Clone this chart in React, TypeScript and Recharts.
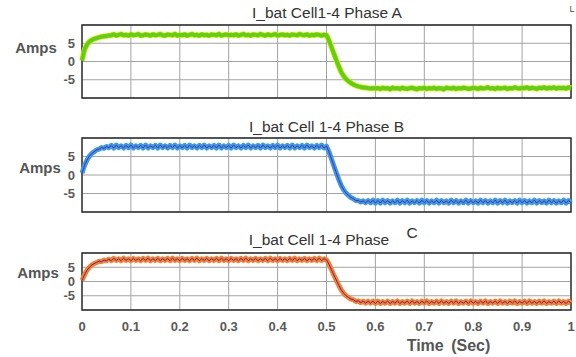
import React from "react";
import { LineChart, Line, XAxis, YAxis, CartesianGrid, ReferenceArea } from "recharts";

const TIME = [
  0, 0.005, 0.01, 0.015, 0.02, 0.025, 0.03, 0.035, 0.04, 0.045, 0.05, 0.055, 0.06, 0.065, 0.07, 0.075, 0.08, 0.085, 0.09, 0.095,
  0.1, 0.105, 0.11, 0.115, 0.12, 0.125, 0.13, 0.135, 0.14, 0.145, 0.15, 0.155, 0.16, 0.165, 0.17, 0.175, 0.18, 0.185, 0.19, 0.195,
  0.2, 0.205, 0.21, 0.215, 0.22, 0.225, 0.23, 0.235, 0.24, 0.245, 0.25, 0.255, 0.26, 0.265, 0.27, 0.275, 0.28, 0.285, 0.29, 0.295,
  0.3, 0.305, 0.31, 0.315, 0.32, 0.325, 0.33, 0.335, 0.34, 0.345, 0.35, 0.355, 0.36, 0.365, 0.37, 0.375, 0.38, 0.385, 0.39, 0.395,
  0.4, 0.405, 0.41, 0.415, 0.42, 0.425, 0.43, 0.435, 0.44, 0.445, 0.45, 0.455, 0.46, 0.465, 0.47, 0.475, 0.48, 0.485, 0.49, 0.495,
  0.5, 0.505, 0.51, 0.515, 0.52, 0.525, 0.53, 0.535, 0.54, 0.545, 0.55, 0.555, 0.56, 0.565, 0.57, 0.575, 0.58, 0.585, 0.59, 0.595,
  0.6, 0.605, 0.61, 0.615, 0.62, 0.625, 0.63, 0.635, 0.64, 0.645, 0.65, 0.655, 0.66, 0.665, 0.67, 0.675, 0.68, 0.685, 0.69, 0.695,
  0.7, 0.705, 0.71, 0.715, 0.72, 0.725, 0.73, 0.735, 0.74, 0.745, 0.75, 0.755, 0.76, 0.765, 0.77, 0.775, 0.78, 0.785, 0.79, 0.795,
  0.8, 0.805, 0.81, 0.815, 0.82, 0.825, 0.83, 0.835, 0.84, 0.845, 0.85, 0.855, 0.86, 0.865, 0.87, 0.875, 0.88, 0.885, 0.89, 0.895,
  0.9, 0.905, 0.91, 0.915, 0.92, 0.925, 0.93, 0.935, 0.94, 0.945, 0.95, 0.955, 0.96, 0.965, 0.97, 0.975, 0.98, 0.985, 0.99, 0.995,
  1,
];

// Phase A (t = 0 .. 0.055, 0.06 .. 0.5, 0.505 .. 0.6, 0.605 .. 1)
const A_RISE = [0.3, 3.2, 4.6, 5.4, 5.9, 6.2, 6.4, 6.6, 6.8, 6.9, 7.0, 7.1];
const A_HIGH = [
  7.2, 7.4, 7.1, 7.3, 7.5, 7.2, 7.3, 7.1, 7.4, 7.2,
  7.3, 7.5, 7.1, 7.2, 7.4, 7.3, 7.1, 7.4, 7.2, 7.3,
  7.5, 7.2, 7.1, 7.4, 7.3, 7.2, 7.5, 7.1, 7.3, 7.2,
  7.4, 7.1, 7.3, 7.5, 7.2, 7.3, 7.1, 7.4, 7.2, 7.3,
  7.1, 7.4, 7.3, 7.2, 7.5, 7.1, 7.3, 7.4, 7.2, 7.3,
  7.2, 7.4, 7.1, 7.3, 7.5, 7.2, 7.3, 7.1, 7.4, 7.3,
  7.2, 7.5, 7.3, 7.1, 7.4, 7.2, 7.3, 7.5, 7.1, 7.3,
  7.4, 7.2, 7.3, 7.1, 7.4, 7.3, 7.2, 7.5, 7.3, 7.2,
  7.4, 7.1, 7.3, 7.2, 7.4, 7.3, 7.1, 7.3, 7.2,
];
const A_FALL = [5.8, 4.0, 2.2, 0.4, -1.3, -2.9, -4.0, -4.8, -5.4, -5.9, -6.3, -6.6, -6.8, -7.0, -7.1, -7.2, -7.3, -7.4, -7.3, -7.4];
const A_LOW = [
  -7.3, -7.5, -7.2, -7.4, -7.3, -7.6, -7.2, -7.4, -7.3, -7.5,
  -7.2, -7.4, -7.5, -7.3, -7.2, -7.4, -7.6, -7.3, -7.4, -7.2,
  -7.5, -7.3, -7.4, -7.2, -7.5, -7.3, -7.4, -7.6, -7.2, -7.3,
  -7.4, -7.2, -7.5, -7.3, -7.4, -7.2, -7.3, -7.5, -7.4, -7.2,
  -7.3, -7.5, -7.2, -7.4, -7.3, -7.1, -7.4, -7.3, -7.5, -7.2,
  -7.4, -7.3, -7.2, -7.5, -7.3, -7.4, -7.1, -7.3, -7.4, -7.2,
  -7.3, -7.1, -7.4, -7.2, -7.3, -7.5, -7.2, -7.3, -7.1, -7.4,
  -7.2, -7.3, -7.1, -7.4, -7.2, -7.3, -7.2, -7.4, -7.1, -7.3,
];

// Phase B
const B_RISE = [0.5, 2.5, 4.0, 5.1, 5.8, 6.3, 6.8, 7.0, 7.4, 7.2, 7.7, 7.4];
const B_HIGH = [
  8.0, 7.3, 8.1, 7.4, 7.9, 7.3, 8.0, 7.4, 8.1, 7.3,
  7.9, 7.4, 8.0, 7.3, 8.1, 7.3, 7.9, 7.4, 8.0, 7.3,
  8.1, 7.4, 7.9, 7.3, 8.0, 7.4, 8.1, 7.3, 7.9, 7.4,
  8.0, 7.3, 8.1, 7.4, 7.9, 7.3, 8.0, 7.4, 8.1, 7.3,
  7.9, 7.4, 8.0, 7.3, 8.1, 7.3, 7.9, 7.4, 8.0, 7.3,
  8.1, 7.4, 7.9, 7.3, 8.0, 7.4, 8.1, 7.3, 7.9, 7.4,
  8.0, 7.3, 8.1, 7.4, 7.9, 7.3, 8.0, 7.4, 8.1, 7.3,
  7.9, 7.4, 8.0, 7.3, 8.1, 7.3, 7.9, 7.4, 8.0, 7.3,
  8.1, 7.4, 7.9, 7.3, 8.0, 7.4, 8.1, 7.3, 7.8,
];
const B_FALL = [6.3, 4.4, 2.5, 0.6, -1.2, -2.8, -4.0, -4.9, -5.5, -6.1, -6.4, -6.9, -6.9, -7.3, -7.0, -7.5, -6.9, -7.5, -6.8, -7.6];
const B_LOW = [
  -6.9, -7.6, -6.8, -7.5, -6.9, -7.6, -7.0, -7.5, -6.8, -7.6,
  -6.9, -7.5, -6.8, -7.6, -7.0, -7.5, -6.9, -7.6, -6.8, -7.5,
  -6.9, -7.6, -7.0, -7.5, -6.8, -7.6, -6.9, -7.5, -7.0, -7.6,
  -6.8, -7.5, -6.9, -7.6, -7.0, -7.5, -6.8, -7.6, -6.9, -7.5,
  -7.0, -7.6, -6.8, -7.5, -6.9, -7.6, -7.0, -7.5, -6.8, -7.6,
  -6.9, -7.5, -6.8, -7.6, -7.0, -7.5, -6.9, -7.6, -6.8, -7.5,
  -6.9, -7.6, -7.0, -7.5, -6.8, -7.6, -6.9, -7.5, -7.0, -7.6,
  -6.8, -7.5, -6.9, -7.6, -7.0, -7.5, -6.8, -7.6, -6.9, -7.5,
];

// Phase C
const C_RISE = [0.4, 2.3, 3.9, 5.0, 5.8, 6.3, 6.7, 7.1, 7.0, 7.5, 7.3, 7.8];
const C_HIGH = [
  7.3, 8.1, 7.4, 8.0, 7.3, 8.2, 7.4, 8.0, 7.3, 8.1,
  7.4, 8.0, 7.3, 8.1, 7.4, 8.2, 7.3, 8.0, 7.4, 8.1,
  7.3, 8.0, 7.4, 8.1, 7.3, 8.2, 7.4, 8.0, 7.3, 8.1,
  7.4, 8.0, 7.3, 8.1, 7.4, 8.2, 7.3, 8.0, 7.4, 8.1,
  7.3, 8.0, 7.4, 8.1, 7.3, 8.2, 7.4, 8.0, 7.3, 8.1,
  7.4, 8.0, 7.3, 8.1, 7.4, 8.2, 7.3, 8.0, 7.4, 8.1,
  7.3, 8.0, 7.4, 8.1, 7.3, 8.2, 7.4, 8.0, 7.3, 8.1,
  7.4, 8.0, 7.3, 8.1, 7.4, 8.2, 7.3, 8.0, 7.4, 8.1,
  7.3, 8.0, 7.4, 8.1, 7.3, 8.2, 7.4, 8.0, 7.6,
];
const C_FALL = [6.1, 4.2, 2.3, 0.5, -1.3, -2.9, -4.1, -5.0, -5.6, -6.2, -6.4, -7.0, -6.8, -7.4, -6.9, -7.6, -6.9, -7.6, -6.9, -7.7];
const C_LOW = [
  -6.9, -7.7, -7.0, -7.6, -6.9, -7.7, -7.0, -7.6, -6.8, -7.7,
  -7.0, -7.6, -6.9, -7.7, -6.8, -7.6, -7.0, -7.7, -6.9, -7.6,
  -6.8, -7.7, -7.0, -7.6, -6.9, -7.7, -6.8, -7.6, -7.0, -7.7,
  -6.9, -7.6, -6.8, -7.7, -7.0, -7.6, -6.9, -7.7, -6.8, -7.6,
  -7.0, -7.7, -6.9, -7.6, -6.8, -7.7, -7.0, -7.6, -6.9, -7.7,
  -6.8, -7.6, -7.0, -7.7, -6.9, -7.6, -6.8, -7.7, -7.0, -7.6,
  -6.9, -7.7, -6.8, -7.6, -7.0, -7.7, -6.9, -7.6, -6.8, -7.7,
  -7.0, -7.6, -6.9, -7.7, -6.8, -7.6, -7.0, -7.7, -6.9, -7.6,
];

const PHASE_A = [...A_RISE, ...A_HIGH, ...A_FALL, ...A_LOW];
const PHASE_B = [...B_RISE, ...B_HIGH, ...B_FALL, ...B_LOW];
const PHASE_C = [...C_RISE, ...C_HIGH, ...C_FALL, ...C_LOW];

const X_TICKS = [0, 0.1, 0.2, 0.3, 0.4, 0.5, 0.6, 0.7, 0.8, 0.9, 1];
const Y_TICKS = [-5, 0, 5];
const TITLES = ["I_bat Cell1-4 Phase A", "I_bat Cell 1-4 Phase B", "I_bat Cell 1-4 Phase"];
const Y_LABEL = "Amps";
const X_LABEL = "Time (Sec)";

const FONT = "'Liberation Sans', Arial, Helvetica, sans-serif";

const build = (vals: number[]) => TIME.map((t, i) => ({ t, v: vals[i] }));

type PanelProps = {
  top: number;
  plotH: number;
  values: number[];
  showX: boolean;
  band: string;
  bandW: number;
  line: string;
  lineW: number;
};

function Panel({ top, plotH, values, showX, band, bandW, line, lineW }: PanelProps) {
  const pad = 2;
  const xH = showX ? 30 : 0;
  const data = build(values);
  const tickStyle = { fontSize: 13, fontWeight: 700, fill: "#5a5a5a", fontFamily: FONT };
  return (
    <div style={{ position: "absolute", left: 0, top: top - pad, width: 576, height: plotH + pad * 2 + xH }}>
      <LineChart
        width={576}
        height={plotH + pad * 2 + xH}
        data={data}
        margin={{ top: pad, right: 5, bottom: pad, left: 0 }}
      >
        <CartesianGrid stroke="#a3a3a3" strokeWidth={1} />
        <XAxis
          dataKey="t"
          type="number"
          domain={[0, 1]}
          ticks={X_TICKS}
          hide={!showX}
          height={xH}
          axisLine={false}
          tickLine={false}
          tickSize={0}
          tickMargin={12}
          tick={tickStyle}
          interval={0}
        />
        <YAxis
          type="number"
          domain={[-10, 10]}
          ticks={Y_TICKS}
          width={82}
          axisLine={false}
          tickLine={false}
          tickSize={0}
          tickMargin={7}
          tick={tickStyle}
          interval={0}
          allowDataOverflow
        />
        <Line
          type="linear"
          dataKey="v"
          stroke={band}
          strokeWidth={bandW}
          dot={false}
          isAnimationActive={false}
          strokeLinejoin="round"
        />
        <Line
          type="linear"
          dataKey="v"
          stroke={line}
          strokeWidth={lineW}
          dot={false}
          isAnimationActive={false}
        />
        <ReferenceArea x1={0} x2={1} y1={-10} y2={10} fill="none" fillOpacity={0} stroke="#2b2b2b" strokeWidth={1.4} />
      </LineChart>
    </div>
  );
}

export default function App() {
  return (
    <div
      style={{
        position: "absolute",
        left: 0,
        top: 0,
        width: 576,
        height: 357,
        background: "#ffffff",
        overflow: "hidden",
        fontFamily: FONT,
      }}
    >
      <Panel top={25} plotH={73} values={PHASE_A} showX={false} band="#d8e600" bandW={5.5} line="#5fd012" lineW={4} />
      <Panel top={138} plotH={74} values={PHASE_B} showX={false} band="#3a9be8" bandW={5} line="#5a2c9e" lineW={1} />
      <Panel top={253} plotH={57} values={PHASE_C} showX={true} band="#f5812c" bandW={5} line="#6e1e8e" lineW={1} />
      <svg
        width={576}
        height={357}
        style={{ position: "absolute", left: 0, top: 0, pointerEvents: "none" }}
        fontFamily={FONT}
      >
        <text x={327} y={17.5} textAnchor="middle" fontSize={15.5} fill="#333">{TITLES[0]}</text>
        <text x={326.5} y={132} textAnchor="middle" fontSize={15.5} fill="#333">{TITLES[1]}</text>
        <text x={319} y={245} textAnchor="middle" fontSize={15.5} fill="#333">{TITLES[2]}</text>
        <text x={412} y={238} textAnchor="middle" fontSize={15.5} fill="#333">C</text>
        <text x={572} y={12} textAnchor="middle" fontSize={9} fill="#555">L</text>
        <text x={36} y={53} textAnchor="middle" fontSize={15} fontWeight={700} fill="#555">{Y_LABEL}</text>
        <text x={40} y={173} textAnchor="middle" fontSize={15} fontWeight={700} fill="#555">{Y_LABEL}</text>
        <text x={38} y={278} textAnchor="middle" fontSize={15} fontWeight={700} fill="#555">{Y_LABEL}</text>
        <text x={448.5} y={351} textAnchor="middle" fontSize={16} fontWeight={700} fill="#555" wordSpacing={3}>{X_LABEL}</text>
      </svg>
    </div>
  );
}
